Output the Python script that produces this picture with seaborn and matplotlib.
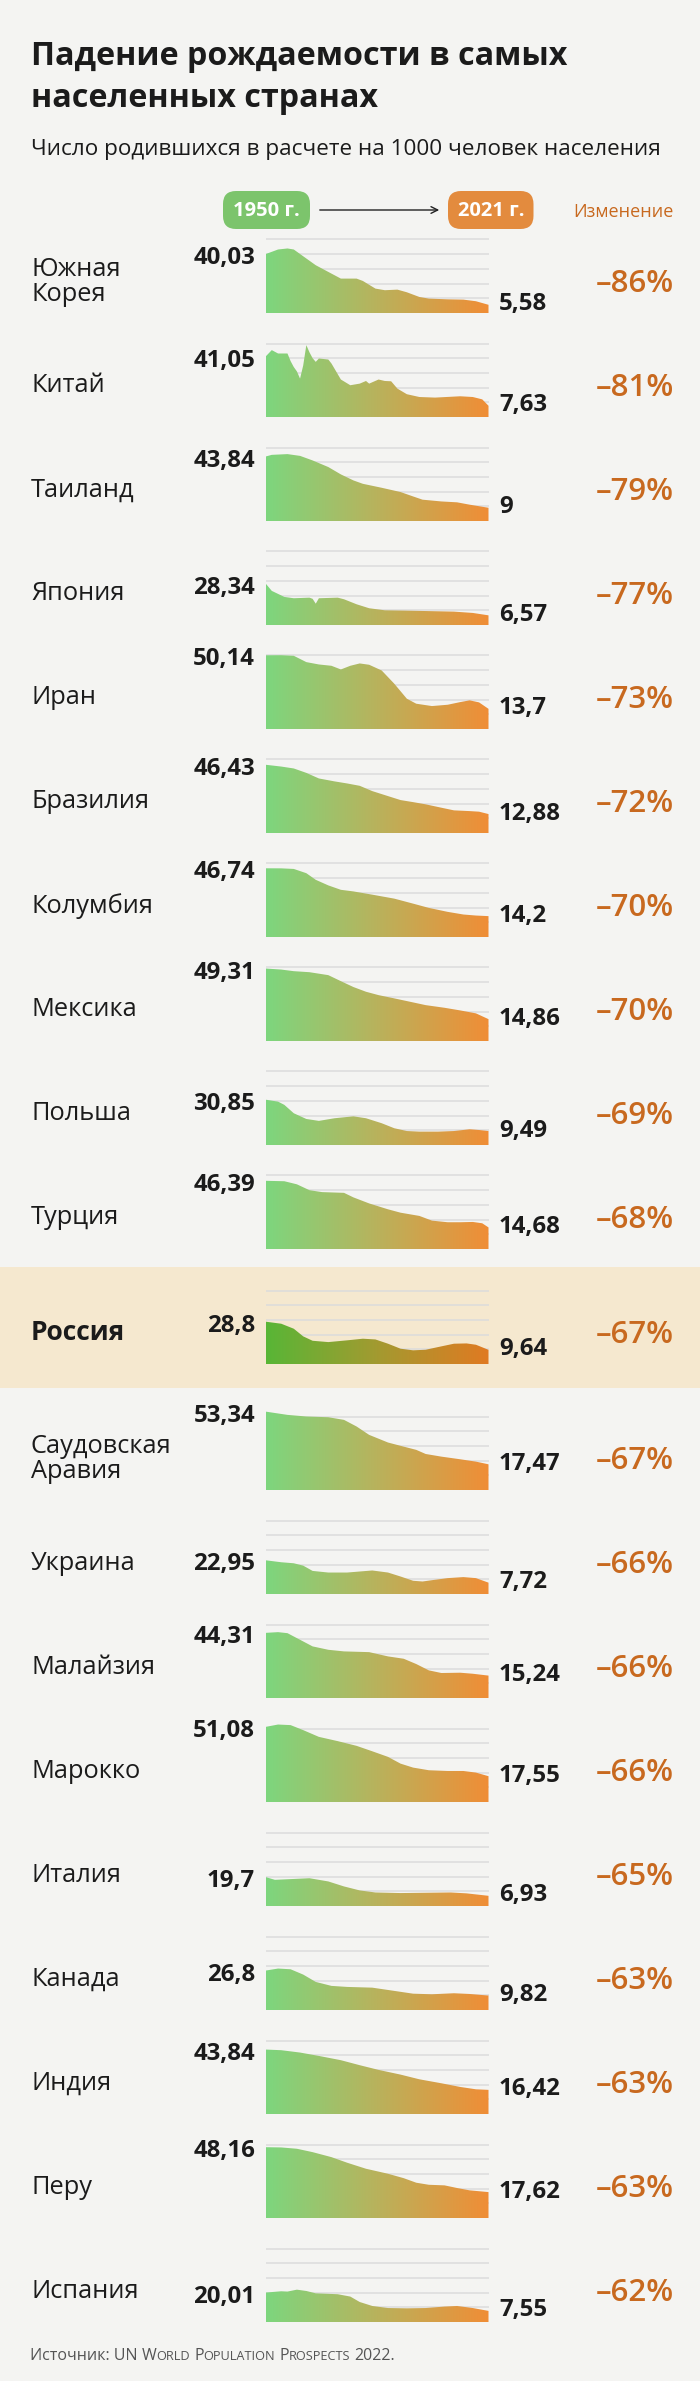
import matplotlib
matplotlib.use("Agg")
import matplotlib.pyplot as plt
from matplotlib import font_manager
from matplotlib.patches import FancyBboxPatch, FancyArrowPatch, Rectangle, PathPatch
from matplotlib.transforms import IdentityTransform
import numpy as np
import seaborn as sns

W, H = 700, 2381

# ---- data ----
countries = ["Южная\nКорея", "Китай", "Таиланд", "Япония", "Иран", "Бразилия",
             "Колумбия", "Мексика", "Польша", "Турция", "Россия",
             "Саудовская\nАравия", "Украина", "Малайзия", "Марокко", "Италия",
             "Канада", "Индия", "Перу", "Испания"]

years_korea = [1950, 1954, 1957, 1959, 1962, 1966, 1971, 1974, 1979, 1981, 1985, 1988, 1992, 1995, 1999, 2002, 2008, 2013, 2017, 2021]
rate_korea = [40.03, 43.2, 43.9, 43.2, 38.6, 32.5, 26.8, 23.4, 23.4, 21.8, 16.6, 15.5, 15.9, 14.1, 10.9, 9.8, 9.3, 9.1, 8.0, 5.58]

years_china = [1950, 1952, 1954, 1957, 1958, 1959, 1960, 1961, 1962, 1963, 1964, 1965, 1966, 1967, 1970, 1971, 1974, 1977, 1980, 1982, 1983, 1986, 1988, 1990, 1992, 1995, 1999, 2004, 2012, 2016, 2019, 2021]
rate_china = [41.05, 45.5, 43.2, 43.2, 38.0, 34.0, 31.0, 26.1, 35.0, 48.9, 44.0, 40.0, 37.5, 39.8, 39.1, 36.4, 25.5, 21.6, 22.7, 24.5, 22.7, 25.5, 24.5, 24.3, 19.3, 15.5, 13.6, 13.2, 14.1, 13.6, 12.0, 7.63]

years_thai = [1950, 1952, 1957, 1961, 1965, 1970, 1974, 1978, 1981, 1987, 1993, 1997, 2000, 2006, 2011, 2015, 2021]
rate_thai = [43.84, 45.0, 45.5, 44.3, 41.2, 36.7, 31.7, 27.6, 25.3, 22.6, 19.7, 16.7, 14.5, 13.3, 12.7, 11.1, 9.0]

years_japan = [1950, 1952, 1956, 1959, 1964, 1965, 1966, 1967, 1973, 1975, 1979, 1983, 1988, 1994, 2001, 2010, 2016, 2021]
rate_japan = [28.34, 23.2, 19.1, 18.2, 18.6, 17.8, 14.5, 18.2, 18.6, 17.5, 14.1, 11.4, 10.0, 9.8, 9.5, 9.1, 8.2, 6.57]

years_iran = [1950, 1955, 1959, 1963, 1967, 1971, 1974, 1977, 1980, 1983, 1987, 1991, 1995, 1998, 2003, 2008, 2012, 2015, 2018, 2021]
rate_iran = [50.14, 50.2, 49.8, 45.5, 43.9, 43.0, 40.5, 43.0, 44.6, 43.7, 39.8, 30.8, 20.6, 17.2, 15.6, 16.5, 18.3, 19.5, 18.1, 13.7]

years_brazil = [1950, 1955, 1959, 1963, 1967, 1972, 1976, 1980, 1984, 1989, 1993, 1997, 2001, 2006, 2010, 2015, 2018, 2021]
rate_brazil = [46.43, 45.2, 43.9, 40.9, 37.1, 35.1, 33.7, 32.1, 28.5, 25.1, 22.4, 21.0, 19.5, 17.2, 15.4, 14.9, 14.5, 12.88]

years_colombia = [1950, 1955, 1959, 1963, 1966, 1970, 1974, 1978, 1984, 1991, 1997, 2002, 2008, 2013, 2017, 2021]
rate_colombia = [46.74, 46.7, 46.3, 43.4, 38.9, 35.1, 32.1, 31.0, 28.8, 26.1, 22.7, 19.8, 17.1, 15.3, 14.6, 14.2]

years_mexico = [1950, 1955, 1959, 1964, 1970, 1974, 1978, 1982, 1986, 1991, 1996, 2001, 2007, 2012, 2017, 2021]
rate_mexico = [49.31, 48.6, 47.5, 46.8, 44.8, 40.7, 36.7, 33.5, 31.2, 29.0, 26.7, 24.4, 22.6, 20.8, 18.8, 14.86]

years_poland = [1950, 1954, 1956, 1959, 1963, 1967, 1972, 1978, 1982, 1987, 1991, 1995, 1999, 2005, 2010, 2015, 2018, 2021]
rate_poland = [30.85, 29.5, 27.3, 21.6, 17.7, 16.4, 18.2, 19.5, 18.2, 14.8, 11.4, 9.5, 9.1, 9.1, 9.5, 10.7, 10.2, 9.49]

years_turkey = [1950, 1956, 1960, 1964, 1968, 1975, 1978, 1983, 1989, 1993, 1999, 2003, 2008, 2012, 2016, 2019, 2021]
rate_turkey = [46.39, 46.1, 44.0, 40.0, 38.7, 38.2, 35.1, 31.0, 27.0, 24.7, 22.5, 19.3, 18.2, 18.2, 18.4, 17.5, 14.68]

years_russia = [1950, 1955, 1959, 1962, 1965, 1970, 1976, 1981, 1985, 1989, 1993, 1997, 2001, 2006, 2010, 2014, 2017, 2021]
rate_russia = [28.8, 27.4, 24.0, 18.8, 15.8, 14.9, 16.1, 17.2, 16.7, 13.8, 10.4, 9.3, 9.7, 12.0, 13.8, 14.0, 13.1, 9.64]

years_saudi = [1950, 1957, 1963, 1970, 1975, 1979, 1983, 1989, 1994, 1998, 2001, 2006, 2012, 2017, 2021]
rate_saudi = [53.34, 51.1, 50.0, 49.5, 47.7, 43.2, 37.5, 32.3, 29.5, 27.3, 24.5, 22.7, 20.9, 19.3, 17.47]

years_ukraine = [1950, 1955, 1959, 1962, 1965, 1970, 1976, 1980, 1984, 1989, 1993, 1997, 2000, 2003, 2008, 2013, 2017, 2021]
rate_ukraine = [22.95, 21.6, 20.9, 19.3, 15.7, 14.6, 14.6, 15.3, 16.0, 14.6, 11.9, 9.0, 8.5, 9.4, 10.8, 11.5, 10.8, 7.72]

years_malaysia = [1950, 1954, 1957, 1961, 1965, 1970, 1975, 1983, 1989, 1994, 1998, 2002, 2006, 2012, 2016, 2021]
rate_malaysia = [44.31, 44.8, 44.1, 39.6, 35.1, 32.8, 31.7, 31.2, 28.3, 26.7, 23.1, 18.8, 17.0, 17.2, 16.5, 15.24]

years_morocco = [1950, 1954, 1958, 1962, 1967, 1973, 1979, 1984, 1989, 1993, 1997, 2002, 2008, 2013, 2017, 2021]
rate_morocco = [51.08, 52.7, 52.3, 48.9, 44.3, 41.4, 38.2, 34.5, 30.7, 26.1, 23.4, 21.6, 21.1, 21.1, 20.0, 17.55]

years_italy = [1950, 1953, 1957, 1964, 1970, 1975, 1980, 1985, 1993, 2001, 2009, 2014, 2021]
rate_italy = [19.7, 17.8, 18.2, 18.9, 16.7, 13.3, 10.6, 9.2, 8.8, 9.0, 9.2, 8.6, 6.93]

years_canada = [1950, 1954, 1958, 1962, 1966, 1971, 1976, 1984, 1991, 1997, 2003, 2010, 2015, 2021]
rate_canada = [26.8, 28.2, 27.7, 24.1, 19.1, 16.4, 15.7, 15.2, 13.0, 11.1, 10.7, 11.4, 10.9, 9.82]

years_india = [1950, 1955, 1961, 1967, 1974, 1980, 1986, 1993, 1999, 2006, 2012, 2017, 2021]
rate_india = [43.84, 43.4, 41.8, 39.5, 36.6, 33.2, 30.0, 26.8, 23.6, 20.9, 18.4, 16.8, 16.42]

years_peru = [1950, 1955, 1960, 1965, 1971, 1976, 1982, 1989, 1994, 1998, 2002, 2007, 2011, 2015, 2021]
rate_peru = [48.16, 48.0, 47.1, 44.8, 41.4, 37.6, 33.5, 30.1, 27.1, 24.0, 22.6, 22.2, 20.4, 18.8, 17.62]

years_spain = [1950, 1955, 1957, 1960, 1963, 1966, 1973, 1977, 1980, 1984, 1989, 1995, 2001, 2007, 2011, 2016, 2021]
rate_spain = [20.01, 20.9, 20.7, 22.0, 21.1, 19.5, 18.9, 17.3, 13.6, 10.9, 9.5, 9.3, 9.5, 10.5, 10.9, 9.5, 7.55]

changes = ["–86%", "–81%", "–79%", "–77%", "–73%", "–72%", "–70%", "–70%", "–69%", "–68%",
           "–67%", "–67%", "–66%", "–66%", "–66%", "–65%", "–63%", "–63%", "–63%", "–62%"]

series = [(years_korea, rate_korea), (years_china, rate_china), (years_thai, rate_thai),
          (years_japan, rate_japan), (years_iran, rate_iran), (years_brazil, rate_brazil),
          (years_colombia, rate_colombia), (years_mexico, rate_mexico), (years_poland, rate_poland),
          (years_turkey, rate_turkey), (years_russia, rate_russia), (years_saudi, rate_saudi),
          (years_ukraine, rate_ukraine), (years_malaysia, rate_malaysia), (years_morocco, rate_morocco),
          (years_italy, rate_italy), (years_canada, rate_canada), (years_india, rate_india),
          (years_peru, rate_peru), (years_spain, rate_spain)]
HIGHLIGHT = "Россия"

# ---- style ----
BG = "#f4f4f2"
INK = "#1b1b1b"
ACCENT = "#c8691f"
GRID = "#dcdcdc"

sns.set_theme(style="white")
avail = {f.name for f in font_manager.fontManager.ttflist}
FONT = next(f for f in ["Open Sans", "Noto Sans", "DejaVu Sans"] if f in avail)
plt.rcParams["font.family"] = [FONT, "DejaVu Sans"]

cmap_main = sns.blend_palette(["#7dd67e", "#b9b25c", "#f08d36"], as_cmap=True)
cmap_hl = sns.blend_palette(["#58b636", "#a39a30", "#e07a22"], as_cmap=True)

PX_PER_UNIT = 1.47
YMAX = 56
AX_LEFT, AX_RIGHT = 265.5, 488.5

fig = plt.figure(figsize=(W / 100, H / 100), dpi=100, facecolor=BG)


def ftext(x, y, s, **kw):
    return fig.text(x / W, 1 - y / H, s, **kw)


def fmt(v):
    return f"{v:.2f}".rstrip("0").rstrip(".").replace(".", ",")


# header
ftext(31, 65, "Падение рождаемости в самых", fontsize=23.2, fontweight="bold", color=INK, va="baseline")
ftext(31, 107, "населенных странах", fontsize=23.2, fontweight="bold", color=INK, va="baseline")
ftext(31, 155, "Число родившихся в расчете на 1000 человек населения", fontsize=16.2, color=INK, va="baseline")

ident = IdentityTransform()
for (x0, x1), col, lab in [((223, 310), "#7cc46c", "1950 г."), ((448, 533.5), "#e38b3e", "2021 г.")]:
    fig.add_artist(FancyBboxPatch((x0, H - 229), x1 - x0, 38, boxstyle="round,pad=0,rounding_size=13",
                                  transform=ident, facecolor=col, edgecolor="none"))
    ftext((x0 + x1) / 2, 211, lab, fontsize=14.5, fontweight="bold", color="white", ha="center", va="center")
fig.add_artist(FancyArrowPatch((317, H - 210), (442, H - 210), transform=ident, arrowstyle="->",
                               mutation_scale=12, lw=1, color="#222222"))
ftext(674, 212, "Изменение", fontsize=13, color=ACCENT, ha="right", va="center")

bases = [313 + 104 * i for i in range(10)] + [1364] + [1490 + 104 * i for i in range(9)]

fig.add_artist(Rectangle((0, H - 1388), W, 121, transform=ident, facecolor="#f5e8cf",
                         edgecolor="none", zorder=-1))

grad = np.linspace(0, 1, 256).reshape(1, -1)
for name, (yrs, vals), base, chg in zip(countries, series, bases, changes):
    hl = name == HIGHLIGHT
    ax = fig.add_axes([AX_LEFT / W, 1 - base / H, (AX_RIGHT - AX_LEFT) / W, YMAX * PX_PER_UNIT / H])
    ax.set_facecolor("none")
    for g in range(10, 60, 10):
        ax.axhline(g, color=GRID, lw=1.1, zorder=0)
    coll = ax.fill_between(yrs, vals, 0, color="none", lw=0)
    patch = PathPatch(coll.get_paths()[0], transform=ax.transData, facecolor="none", edgecolor="none")
    ax.add_patch(patch)
    im = ax.imshow(grad, extent=[1950, 2021, 0, YMAX], aspect="auto", origin="lower",
                   cmap=cmap_hl if hl else cmap_main, zorder=2)
    im.set_clip_path(patch)
    ax.set_xlim(1950, 2021)
    ax.set_ylim(0, YMAX)
    ax.axis("off")

    ax.annotate(fmt(vals[0]), (yrs[0], vals[0]), xytext=(-7.5, -3), textcoords="offset points",
                ha="right", va="center", fontsize=17.3, fontweight="bold", color=INK)
    ax.annotate(fmt(vals[-1]), (yrs[-1], vals[-1]), xytext=(7.5, 0.3), textcoords="offset points",
                ha="left", va="center", fontsize=17.3, fontweight="bold", color=INK)

    ftext(31, base - 31, name, fontsize=19 if hl else 18.3, fontweight="bold" if hl else "normal",
          color=INK, va="center", linespacing=1.05)
    ftext(674, base - 29, chg, fontsize=22.5, fontweight="semibold", color=ACCENT, ha="right", va="center")

# footer with small caps
renderer = fig.canvas.get_renderer()
FS = 11.5
runs = [("Источник: UN ", FS)]
for word in ["World", "Population", "Prospects"]:
    runs.append((word[0], FS))
    runs.append((word[1:].upper(), FS * 0.8))
    runs.append((" ", FS))
runs.append(("2022.", FS))
x = 30
for s, size in runs:
    t = ftext(x, 2360, s, fontsize=size, color="#555555", va="baseline")
    x += t.get_window_extent(renderer=renderer).width

fig.savefig("out.png", dpi=100, facecolor=BG)
